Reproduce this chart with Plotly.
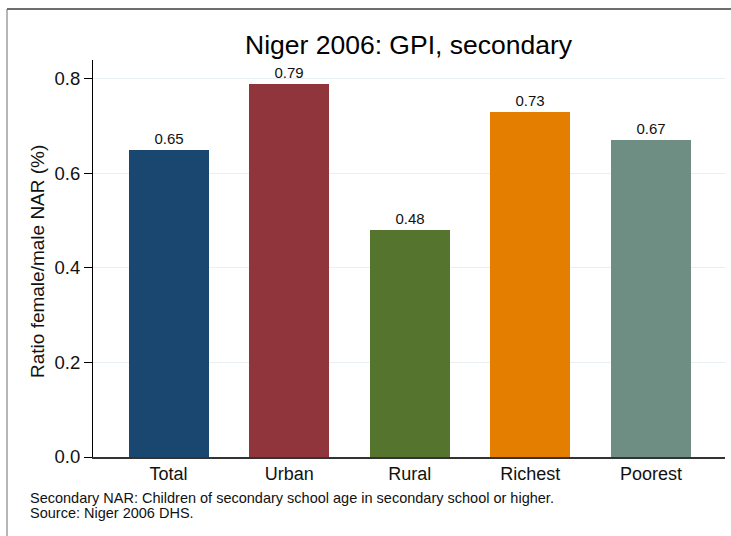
import plotly.graph_objects as go

categories = ["Total", "Urban", "Rural", "Richest", "Poorest"]
values = [0.65, 0.79, 0.48, 0.73, 0.67]
labels = ["0.65", "0.79", "0.48", "0.73", "0.67"]
colors = ["#1a476f", "#90353b", "#55752f", "#e37e00", "#6e8e84"]
y_ticks = [0.0, 0.2, 0.4, 0.6, 0.8]
y_ticktext = ["0.0", "0.2", "0.4", "0.6", "0.8"]
title_text = "Niger 2006: GPI, secondary"
y_title = "Ratio female/male NAR (%)"
note_lines = ["Secondary NAR: Children of secondary school age in secondary school or higher.",
              "Source: Niger 2006 DHS."]

W, H = 731, 536
L, R, T, B = 93, 6, 60, 79
pw, ph = W - L - R, H - T - B

def px(x):
    return (x - L) / pw

def py(y):
    return (H - B - y) / ph

FONT = "Arial, Liberation Sans, Helvetica, sans-serif"

fig = go.Figure()
fig.add_trace(go.Bar(
    x=list(range(len(categories))), y=values,
    marker=dict(color=colors, line=dict(width=0)),
    width=0.663,
    text=labels, textposition="outside", cliponaxis=False,
    textfont=dict(size=15, color="#111", family=FONT),
    hoverinfo="skip",
))

fig.update_layout(
    width=W, height=H,
    margin=dict(l=L, r=R, t=T, b=B),
    paper_bgcolor="white", plot_bgcolor="white",
    showlegend=False,
    font=dict(family=FONT, color="#111"),
    xaxis=dict(
        range=[-0.627, 4.614], tickmode="array",
        tickvals=list(range(len(categories))), ticktext=categories,
        tickfont=dict(size=18), showgrid=False, zeroline=False,
        showline=True, linecolor="#333", linewidth=1.5, ticks="",
    ),
    yaxis=dict(
        range=[0, 0.84], tickmode="array", tickvals=y_ticks, ticktext=y_ticktext,
        tickfont=dict(size=18.5), showgrid=True, gridcolor="#e9f0f3", gridwidth=1,
        zeroline=False, showline=True, linecolor="#000", linewidth=1,
        ticks="outside", ticklen=8, tickcolor="#000",
    ),
    bargap=0,
)

fig.add_annotation(text=title_text, xref="paper", yref="paper",
                   x=px(409), y=py(45), xanchor="center", yanchor="middle",
                   showarrow=False, font=dict(size=26.5, color="#000"))
fig.add_annotation(text=y_title, xref="paper", yref="paper", textangle=-90,
                   x=px(37), y=py(262), xanchor="center", yanchor="middle",
                   showarrow=False, font=dict(size=19, color="#111"))
for i, line in enumerate(note_lines):
    fig.add_annotation(text=line, xref="paper", yref="paper", x=px(28), y=py(498 + 15 * i),
                       xanchor="left", yanchor="middle", align="left",
                       showarrow=False, font=dict(size=14.5, color="#111"))

# frame lines (top and left)
fig.add_shape(type="line", xref="paper", yref="paper", x0=px(7), x1=px(731), y0=py(9), y1=py(9),
              line=dict(color="#6e6e6e", width=2))
fig.add_shape(type="line", xref="paper", yref="paper", x0=px(7), x1=px(7), y0=py(9), y1=py(536),
              line=dict(color="#6e6e6e", width=1))

fig.write_html("out.html", config={"displayModeBar": False},
               post_script="document.body.style.margin='0';document.body.style.overflow='hidden';")
